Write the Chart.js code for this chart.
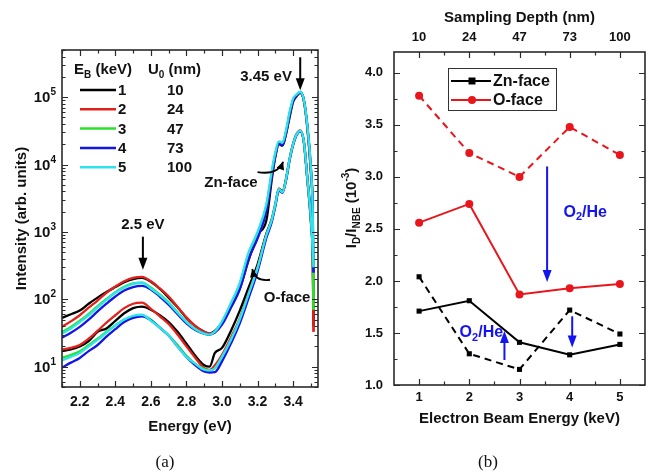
<!DOCTYPE html>
<html>
<head>
<meta charset="utf-8">
<script src="https://cdn.jsdelivr.net/npm/chart.js@4.4.0/dist/chart.umd.min.js"></script>
<style>
  html, body { margin: 0; padding: 0; background: #fff; }
  #wrap { position: relative; width: 649px; height: 475px; overflow: hidden; }
  canvas { position: absolute; top: 0; }
  #cA { left: 0; }
  #cB { left: 330px; }
  .cap { position: absolute; top: 452px; width: 40px; text-align: center;
         font: 17px "Liberation Serif", "DejaVu Serif", serif; color: #111; }
</style>
</head>
<body>
<div id="wrap">
  <canvas id="cA" width="330" height="475"></canvas>
  <canvas id="cB" width="319" height="475"></canvas>
  <div class="cap" style="left:145px">(a)</div>
  <div class="cap" style="left:468px">(b)</div>
</div>
<script>
// ---- panel (a): CL spectra ----
const energy = [2.10,2.15,2.20,2.25,2.30,2.35,2.40,2.45,2.50,2.55,2.60,2.65,2.70,2.75,2.80,2.85,2.90,
                2.93,2.96,3.00,3.05,3.10,3.15,3.20,3.25,3.28,3.30,3.32,3.34,3.36,3.38,3.40,3.42,3.44,3.46,3.48,3.50,3.51,3.515];

const znBlack = [53,60,68,86,106,128,152,180,200,208,182,143,106,76,53,40,33,
                 31,34,45,78,145,380,900,1500,6000,13000,20000,19000,28000,50000,85000,103000,116000,90000,35000,7500,1900,40];
const znRed   = [39,47,58,75,96,125,155,185,208,215,185,145,110,77,54,40,33,
                 31,33,44,76,145,400,820,2100,6900,13800,21000,20000,30000,55000,90000,105000,118000,90000,36000,8000,1900,33];
const znGreen = [33,39,48,61,79,101,128,153,172,176,150,118,90,64,46,36,31,
                 30,33,46,85,170,480,950,2500,7800,14500,21500,20500,31000,58000,92000,108000,119000,91000,37000,8500,2000,70];
const znBlue  = [27,32,39,50,66,86,110,135,152,158,140,110,83,60,44,35,31,
                 30,32,42,75,140,400,800,2100,6800,13500,20500,19500,29000,54000,88000,106000,118000,92000,38000,9000,2300,250];
const znCyan  = [31,37,46,58,76,98,125,150,170,176,145,115,88,63,46,36,31,
                 30,33,47,88,175,500,1000,2600,8000,15000,22000,21000,32000,60000,95000,110000,120000,92000,38000,9000,2200,300];

const oBlack = [17,18,20,24,33,37,48,62,74,78,70,58,46,33,22,14.5,10.5,
                10,16,19,34,68,150,330,950,1550,2600,4400,4000,6100,12000,20000,28000,31000,22000,6000,1400,450,40];
const oRed   = [18,19,21,26,34,45,58,74,86,89,72,56,43,30,20,13.5,9.5,
                9,10.5,15,27,52,125,300,900,1500,2500,4400,4000,6000,12000,20500,28500,32000,22000,6000,1500,480,33];
const oGreen = [13.5,15,17,21,26,33,41,50,56,57,50,38,29,21,14.5,11,9.2,
                8.8,9.5,14,25,50,118,285,880,1480,2500,4300,3900,5900,11800,20000,28000,31000,22000,6200,1600,500,70];
const oBlue  = [9.7,11.5,13.5,17,21,28,36,46,53,56,49,38,29,20,14,10.5,8.5,
                8.2,8.3,12,22,44,105,260,820,1400,2400,4100,3800,5800,11500,19500,27500,31000,22500,6500,1700,550,250];
const oCyan  = [12.5,14,16,20,25,32,41,50,57,59,48,38,29,20,14,11,9,
                8.8,9.5,14,25,50,120,290,900,1500,2550,4300,3900,6000,12000,20000,28000,31500,22500,6300,1600,520,300];

const beamKeV = ['1','2','3','4','5'];
const depthNm = ['10','24','47','73','100'];
const energyTicks = [2.2,2.4,2.6,2.8,3.0,3.2,3.4];
const intensityTicks = [10,100,1000,10000,100000];

// ---- panel (b): defect ratio ----
const beamEnergy = [1,2,3,4,5];
const znSolid  = [1.71,1.81,1.41,1.29,1.39];
const znDashed = [2.04,1.30,1.15,1.72,1.49];
const oSolid   = [2.56,2.74,1.87,1.93,1.97];
const oDashed  = [3.78,3.23,3.00,3.48,3.21];
const ratioTicks = [1.0,1.5,2.0,2.5,3.0,3.5,4.0];

const FONT = '"Liberation Sans", Arial, sans-serif';
const f = (size) => ({ family: FONT, size: size, weight: 'bold' });
const TXT = '#111';
const lineColours = ['#000000', '#e3211c', '#2ee02e', '#1515e6', '#2ee4ec'];
const RED = '#e8161c', BLUE = '#1414f0';

function rich(ctx, parts, x, y, align, size, colour) {
  const fs = k => k ? Math.round(size * 0.66) : size;
  let w = 0;
  parts.forEach(([t, k]) => { ctx.font = `bold ${fs(k)}px ${FONT}`; w += ctx.measureText(t).width; });
  let cx = align === 'center' ? x - w / 2 : align === 'right' ? x - w : x;
  ctx.fillStyle = colour || TXT;
  ctx.textAlign = 'left';
  ctx.textBaseline = 'middle';
  parts.forEach(([t, k]) => {
    ctx.font = `bold ${fs(k)}px ${FONT}`;
    const dy = k === 1 ? size * 0.32 : k === 2 ? -size * 0.38 : 0;
    ctx.fillText(t, cx, y + dy);
    cx += ctx.measureText(t).width;
  });
}

function arrowHead(ctx, x, y, ang, len, half) {
  ctx.beginPath();
  ctx.moveTo(x, y);
  ctx.lineTo(x - len * Math.cos(ang) + half * Math.sin(ang), y - len * Math.sin(ang) - half * Math.cos(ang));
  ctx.lineTo(x - len * Math.cos(ang) - half * Math.sin(ang), y - len * Math.sin(ang) + half * Math.cos(ang));
  ctx.closePath();
  ctx.fill();
}

function straightArrow(ctx, x, y0, y1, colour) {
  ctx.strokeStyle = colour; ctx.fillStyle = colour; ctx.lineWidth = 2;
  const dir = y1 > y0 ? 1 : -1;
  ctx.beginPath(); ctx.moveTo(x, y0); ctx.lineTo(x, y1 - dir * 10); ctx.stroke();
  arrowHead(ctx, x, y1, dir > 0 ? Math.PI / 2 : -Math.PI / 2, 12, 4.5);
}

// inward ticks on all four sides + frame
const tickFrame = {
  id: 'tickFrame',
  afterDatasetsDraw(chart, args, o) {
    const { ctx, chartArea: a } = chart;
    const xs = chart.scales.x, ys = chart.scales.y;
    ctx.save();
    ctx.strokeStyle = '#2a2a2a';
    ctx.lineWidth = 1.2;
    const xt = (list, len) => list.forEach(v => {
      const p = Math.round(xs.getPixelForValue(v)) + 0.5;
      ctx.beginPath(); ctx.moveTo(p, a.bottom); ctx.lineTo(p, a.bottom - len);
      ctx.moveTo(p, a.top); ctx.lineTo(p, a.top + len); ctx.stroke();
    });
    const yt = (list, len) => list.forEach(v => {
      const p = Math.round(ys.getPixelForValue(v)) + 0.5;
      ctx.beginPath(); ctx.moveTo(a.left, p); ctx.lineTo(a.left + len, p);
      ctx.moveTo(a.right, p); ctx.lineTo(a.right - len, p); ctx.stroke();
    });
    xt(o.xMajor, 6); xt(o.xMinor, 3.5);
    yt(o.yMajor, 6); yt(o.yMinor, 3.5);
    ctx.lineWidth = 1.6;
    ctx.strokeRect(a.left, a.top, a.right - a.left, a.bottom - a.top);
    ctx.restore();
  }
};

// ---------------- chart (a) ----------------
const specSets = [];
const zn = [znBlack, znRed, znGreen, znBlue, znCyan];
const of = [oBlack, oRed, oGreen, oBlue, oCyan];
[zn, of].forEach(group => group.forEach((arr, i) => {
  specSets.push({
    data: energy.map((e, k) => ({ x: e, y: arr[k] })),
    borderColor: lineColours[i], borderWidth: 2.3, pointRadius: 0,
    cubicInterpolationMode: 'monotone', order: 4 - i
  });
}));

const minorLog = [];
[1, 10, 100, 1000, 10000, 100000].forEach(d => {
  for (let k = 2; k <= 9; k++) { const v = k * d; if (v >= 5 && v <= 5e5) minorLog.push(v); }
});

const annotA = {
  id: 'annotA',
  afterDraw(chart) {
    const { ctx } = chart;
    const xs = chart.scales.x, ys = chart.scales.y;
    const P = (e, v) => [xs.getPixelForValue(e), ys.getPixelForValue(v)];
    ctx.save();
    // y tick labels 10^n
    intensityTicks.forEach(v => {
      rich(ctx, [['10', 0], [String(Math.round(Math.log10(v))), 2]], 56, ys.getPixelForValue(v) + 1, 'right', 15);
    });
    // legend
    rich(ctx, [['E', 0], ['B', 1], [' (keV)', 0]], 74, 70, 'left', 15);
    rich(ctx, [['U', 0], ['0', 1], [' (nm)', 0]], 148, 70, 'left', 15);
    beamKeV.forEach((lab, i) => {
      const y = 90 + i * 19.3;
      ctx.strokeStyle = lineColours[i]; ctx.lineWidth = 2.5;
      ctx.beginPath(); ctx.moveTo(80, y); ctx.lineTo(116, y); ctx.stroke();
      rich(ctx, [[lab, 0]], 118, y + 1, 'left', 15);
      rich(ctx, [[depthNm[i], 0]], 167, y + 1, 'left', 15);
    });
    // straight arrows
    ctx.strokeStyle = '#000'; ctx.fillStyle = '#000';
    let [x0, y0] = P(3.44, 3.9e5), [, y1] = P(3.44, 1.26e5);
    straightArrow(ctx, x0, y0, y1, '#000');
    [x0, y0] = P(2.555, 850); [, y1] = P(2.555, 275);
    straightArrow(ctx, x0, y0, y1, '#000');
    // labels
    const lab = (t, e, v) => { const [x, y] = P(e, v); rich(ctx, [[t, 0]], x, y, 'center', 15); };
    lab('3.45 eV', 3.248, 2.0e5);
    lab('2.5 eV', 2.555, 1260);
    lab('Zn-face', 3.05, 5400);
    lab('O-face', 3.366, 105);
    // curved arrows
    const curve = (s, c, t) => {
      const [sx, sy] = P(...s), [cx, cy] = P(...c), [tx, ty] = P(...t);
      ctx.strokeStyle = '#000'; ctx.fillStyle = '#000'; ctx.lineWidth = 1.8;
      ctx.beginPath(); ctx.moveTo(sx, sy); ctx.quadraticCurveTo(cx, cy, tx, ty); ctx.stroke();
      arrowHead(ctx, tx, ty, Math.atan2(ty - cy, tx - cx), 8, 4);
    };
    curve([3.20, 7700], [3.315, 6900], [3.344, 11000]);
    curve([3.27, 195], [3.186, 182], [3.17, 282]);
    ctx.restore();
  }
};

new Chart(document.getElementById('cA'), {
  type: 'line',
  data: { datasets: specSets },
  options: {
    responsive: false, animation: false,
    layout: { padding: { left: 0, top: 50, right: 12, bottom: 35 } },
    plugins: {
      legend: { display: false }, tooltip: { enabled: false },
      tickFrame: { xMajor: energyTicks, xMinor: [2.1,2.3,2.5,2.7,2.9,3.1,3.3,3.5], yMajor: intensityTicks, yMinor: minorLog }
    },
    scales: {
      x: {
        type: 'linear', min: 2.1, max: 3.54,
        grid: { display: false, drawTicks: false }, border: { display: false },
        afterBuildTicks: s => { s.ticks = energyTicks.map(v => ({ value: v })); },
        ticks: { font: f(14), color: TXT, padding: 7, autoSkip: false, maxRotation: 0, callback: v => v.toFixed(1) },
        title: { display: true, text: 'Energy (eV)', font: f(15), color: TXT, padding: { top: 0, bottom: 4 } },
        afterFit: s => { s.height = 53; }
      },
      y: {
        type: 'logarithmic', min: 5, max: 5e5,
        grid: { display: false, drawTicks: false }, border: { display: false },
        afterBuildTicks: s => { s.ticks = intensityTicks.map(v => ({ value: v })); },
        ticks: { display: false },
        title: { display: true, text: 'Intensity (arb. units)', font: f(15), color: TXT, padding: { top: 13, bottom: 0 } },
        afterFit: s => { s.width = 62; }
      }
    }
  },
  plugins: [tickFrame, annotA]
});

// ---------------- chart (b) ----------------
const annotB = {
  id: 'annotB',
  afterDraw(chart) {
    const { ctx } = chart;
    const xs = chart.scales.x, ys = chart.scales.y;
    ctx.save();
    // y title  I_D/I_NBE (10^-3)
    ctx.translate(22, 208);
    ctx.rotate(-Math.PI / 2);
    rich(ctx, [['I', 0], ['D', 1], ['/I', 0], ['NBE', 1], [' (10', 0], ['-3', 2], [')', 0]], 0, 0, 'center', 15);
    ctx.restore();
    ctx.save();
    // blue arrows and labels
    straightArrow(ctx, xs.getPixelForValue(3.55), ys.getPixelForValue(3.1), ys.getPixelForValue(1.99), BLUE);
    straightArrow(ctx, xs.getPixelForValue(2.70), ys.getPixelForValue(1.24), ys.getPixelForValue(1.52), BLUE);
    straightArrow(ctx, xs.getPixelForValue(4.05), ys.getPixelForValue(1.66), ys.getPixelForValue(1.36), BLUE);
    const gas = [['O', 0], ['2', 1], ['/He', 0]];
    rich(ctx, gas, xs.getPixelForValue(4.31), ys.getPixelForValue(2.66), 'center', 16, BLUE);
    rich(ctx, gas, xs.getPixelForValue(2.24), ys.getPixelForValue(1.50), 'center', 16, BLUE);
    // legend box
    ctx.strokeStyle = '#333'; ctx.lineWidth = 1;
    ctx.strokeRect(118.5, 68.5, 108, 42);
    const ds = chart.data.datasets;
    [[ds[0], 'Zn-face', 81], [ds[2], 'O-face', 100]].forEach(([d, t, y]) => {
      ctx.strokeStyle = d.borderColor; ctx.fillStyle = d.borderColor; ctx.lineWidth = 2;
      ctx.beginPath(); ctx.moveTo(121, y); ctx.lineTo(161, y); ctx.stroke();
      if (d.pointStyle === 'rect') ctx.fillRect(142 - 3.5, y - 3.5, 7, 7);
      else { ctx.beginPath(); ctx.arc(142, y, 4, 0, Math.PI * 2); ctx.fill(); }
      rich(ctx, [[t, 0]], 163, y + 1, 'left', 16);
    });
    ctx.restore();
  }
};

const mk = (vals, colour, style, dashed) => ({
  data: beamEnergy.map((e, k) => ({ x: e, y: vals[k] })),
  borderColor: colour, backgroundColor: colour, borderWidth: 2,
  borderDash: dashed ? [7, 5] : [], pointStyle: style,
  pointRadius: style === 'rect' ? 3.6 : 4, pointBorderWidth: 0, tension: 0
});

new Chart(document.getElementById('cB'), {
  type: 'line',
  data: { datasets: [
    mk(znSolid, '#000000', 'rect', false),
    mk(znDashed, '#000000', 'rect', true),
    mk(oSolid, RED, 'circle', false),
    mk(oDashed, RED, 'circle', true)
  ] },
  options: {
    responsive: false, animation: false,
    layout: { padding: { left: 0, top: 0, right: 3, bottom: 40 } },
    plugins: {
      legend: { display: false }, tooltip: { enabled: false },
      tickFrame: { xMajor: beamEnergy, xMinor: [1.5,2.5,3.5,4.5], yMajor: ratioTicks, yMinor: [1.25,1.75,2.25,2.75,3.25,3.75] }
    },
    scales: {
      x: {
        type: 'linear', position: 'bottom', min: 0.5, max: 5.5,
        grid: { display: false, drawTicks: false }, border: { display: false },
        afterBuildTicks: s => { s.ticks = beamEnergy.map(v => ({ value: v })); },
        ticks: { font: f(13), color: TXT, padding: 5, autoSkip: false, maxRotation: 0, callback: v => String(v) },
        title: { display: true, text: 'Electron Beam Energy (keV)', font: f(15), color: TXT, padding: { top: 0, bottom: 7 } },
        afterFit: s => { s.height = 50; }
      },
      x2: {
        type: 'linear', position: 'top', min: 0.5, max: 5.5,
        grid: { display: false, drawTicks: false }, border: { display: false },
        afterBuildTicks: s => { s.ticks = beamEnergy.map(v => ({ value: v })); },
        ticks: { font: f(13), color: TXT, padding: 7, autoSkip: false, maxRotation: 0,
                 callback: v => depthNm[beamEnergy.indexOf(v)] },
        title: { display: true, text: 'Sampling Depth (nm)', font: f(15), color: TXT, padding: { top: 9, bottom: 0 } },
        afterFit: s => { s.height = 52; }
      },
      y: {
        type: 'linear', min: 1.0, max: 4.2,
        grid: { display: false, drawTicks: false }, border: { display: false },
        afterBuildTicks: s => { s.ticks = ratioTicks.map(v => ({ value: v })); },
        ticks: { font: f(13), color: TXT, padding: 11, callback: v => v.toFixed(1) },
        afterFit: s => { s.width = 64; }
      }
    }
  },
  plugins: [tickFrame, annotB]
});
</script>
</body>
</html>
